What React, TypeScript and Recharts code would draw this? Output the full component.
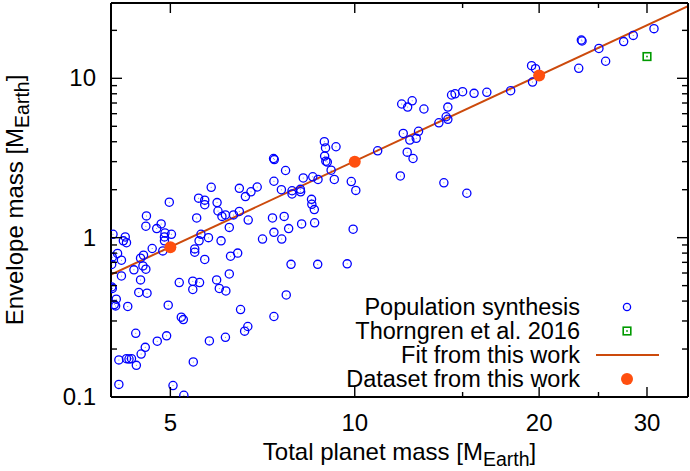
import { ComposedChart, Scatter, Line, XAxis, YAxis, Legend } from "recharts";

const FONT = "'Liberation Sans', Arial, Helvetica, sans-serif";
const BLUE = "#0000ff";
const GREEN = "#009a00";
const FIT = "#cc4a0c";
const DOT = "#ff4f0f";

// population synthesis: [total mass, envelope mass] in Earth masses
const popPoints: [number, number][] = [
  [5.83, 2.07], [4.98, 1.67], [5.56, 1.77], [5.69, 1.72], [5.69, 1.61], [5.96, 1.66],
  [5.98, 1.47], [6.07, 1.36], [6.15, 1.39], [6.34, 1.39], [5.52, 1.33], [4.57, 1.37],
  [4.56, 1.18], [4.75, 1.14], [4.83, 1.22], [4.9, 1.07], [5.02, 1.05], [4.89, 1.01],
  [4.89, 0.955], [4.86, 0.826], [6.24, 1.16], [5.61, 1.05], [5.77, 1.0], [6.05, 0.955],
  [5.57, 0.955], [5.48, 0.85], [5.48, 0.81], [4.67, 0.855], [4.52, 0.776], [4.47, 0.743],
  [4.03, 1.05], [4.22, 1.01], [4.19, 0.955], [4.24, 0.93], [4.1, 0.796], [4.02, 0.754],
  [4.16, 0.722], [5.69, 0.73], [6.27, 0.765], [4.01, 0.679], [4.36, 0.628], [4.51, 0.665],
  [4.56, 0.634], [4.16, 0.575], [4.47, 0.543], [4.01, 0.491], [4.02, 0.48], [4.44, 0.453],
  [4.58, 0.448], [4.08, 0.411], [4.05, 0.38], [4.07, 0.373], [4.26, 0.37], [5.17, 0.523],
  [5.44, 0.533], [5.58, 0.523], [5.44, 0.473], [5.95, 0.543], [6.01, 0.48], [6.16, 0.463],
  [6.24, 0.592], [4.96, 0.377], [5.21, 0.317], [5.25, 0.306], [4.39, 0.251], [4.93, 0.242],
  [4.76, 0.224], [4.55, 0.205], [4.48, 0.186], [4.12, 0.171], [4.24, 0.174], [4.28, 0.173],
  [4.32, 0.174], [4.4, 0.158], [5.45, 0.166], [5.79, 0.225], [6.15, 0.237], [4.12, 0.12],
  [5.05, 0.118], [5.26, 0.1025], [8.92, 4.0], [8.96, 3.66], [9.32, 3.72], [7.37, 3.14],
  [7.39, 3.09], [8.93, 3.25], [8.97, 3.02], [9.02, 2.98], [9.15, 2.65], [7.71, 2.64],
  [9.26, 2.32], [8.24, 2.37], [8.54, 2.41], [8.71, 2.32], [9.87, 2.25], [10.04, 1.98],
  [7.38, 2.26], [7.59, 2.0], [7.9, 1.97], [7.9, 1.88], [8.15, 2.01], [8.16, 1.94],
  [6.48, 2.04], [6.63, 1.81], [6.77, 1.94], [6.93, 2.08], [8.5, 1.74], [8.51, 1.62],
  [8.59, 1.5], [6.48, 1.46], [6.7, 1.29], [7.34, 1.33], [7.67, 1.36], [7.8, 1.14],
  [8.19, 1.22], [8.6, 1.24], [7.38, 1.08], [7.6, 0.98], [7.07, 0.98], [9.94, 1.13],
  [6.44, 0.8], [7.87, 0.68], [8.7, 0.68], [9.72, 0.685], [7.73, 0.437], [6.51, 0.354],
  [7.38, 0.32], [6.69, 0.277], [6.61, 0.259], [11.93, 6.9], [12.2, 6.6], [12.41, 7.23],
  [12.97, 6.42], [14.19, 6.6], [14.39, 7.86], [14.58, 8.0], [15.0, 8.24], [15.66, 8.05],
  [16.43, 8.17], [17.97, 8.36], [14.1, 5.74], [14.19, 5.53], [13.72, 5.26], [12.0, 4.51],
  [12.71, 4.65], [12.3, 4.1], [12.6, 4.2], [10.9, 3.51], [12.18, 3.44], [12.45, 3.14],
  [11.87, 2.44], [13.98, 2.21], [15.24, 1.9], [19.44, 12.0], [19.73, 11.49], [19.51, 9.48],
  [23.44, 17.4], [23.5, 17.15], [25.04, 15.4], [25.68, 12.8], [23.21, 11.56], [27.48, 17.0],
  [28.49, 18.6], [30.8, 20.5],
];

const thorngrenMass = [30];
const thorngrenEnv = [13.7];

const fitMass = [4, 35];
const fitEnv = [0.587, 28.4];

const datasetMass = [5, 10, 20];
const datasetEnv = [0.87, 3.0, 10.4];

const xTicks = [5, 10, 15, 20, 25, 30];
const xLabels = [5, 10, 20, 30];
const yTicks = [
  0.1, 0.2, 0.3, 0.4, 0.5, 0.6, 0.7, 0.8, 0.9,
  1, 2, 3, 4, 5, 6, 7, 8, 9,
  10, 20,
];
const yLabels = [0.1, 1, 10];

const legendLabels = [
  "Population synthesis",
  "Thorngren et al. 2016",
  "Fit from this work",
  "Dataset from this work",
];

const popData = popPoints.map(([x, y]) => ({ x, y }));
const thorngrenData = thorngrenMass.map((x, i) => ({ x, y: thorngrenEnv[i] }));
const fitData = fitMass.map((x, i) => ({ x, y: fitEnv[i] }));
const datasetData = datasetMass.map((x, i) => ({ x, y: datasetEnv[i] }));

const textStyle = { fontFamily: FONT, fontSize: 24, fill: "#000" };

function BottomTick(props: any) {
  const { x, y, payload } = props;
  const major = xLabels.includes(payload.value);
  return (
    <g>
      <line x1={x} y1={y} x2={x} y2={y - (major ? 10 : 5)} stroke="#000" strokeWidth={1.4} />
      {major && (
        <text x={x} y={y + 34} textAnchor="middle" {...textStyle}>
          {payload.value}
        </text>
      )}
    </g>
  );
}

function TopTick(props: any) {
  const { x, y, payload } = props;
  const major = xLabels.includes(payload.value);
  return <line x1={x} y1={y} x2={x} y2={y + (major ? 10 : 5)} stroke="#000" strokeWidth={1.4} />;
}

function LeftTick(props: any) {
  const { x, y, payload } = props;
  const major = yLabels.includes(payload.value);
  return (
    <g>
      <line x1={x} y1={y} x2={x + (major ? 11 : 6)} y2={y} stroke="#000" strokeWidth={1.4} />
      {major && (
        <text x={x - 15} y={y + 8} textAnchor="end" {...textStyle}>
          {payload.value}
        </text>
      )}
    </g>
  );
}

function RightTick(props: any) {
  const { x, y, payload } = props;
  const major = yLabels.includes(payload.value);
  return <line x1={x} y1={y} x2={x - (major ? 11 : 6)} y2={y} stroke="#000" strokeWidth={1.4} />;
}

function XTitle() {
  return (
    <text x={399.5} y={460} textAnchor="middle" {...textStyle}>
      Total planet mass [M
      <tspan dy={6} fontSize={19.5}>Earth</tspan>
      <tspan dy={-6}>]</tspan>
    </text>
  );
}

function YTitle() {
  return (
    <text x={23} y={200} textAnchor="middle" transform="rotate(-90, 23, 200)" {...textStyle}>
      Envelope mass [M
      <tspan dy={6} fontSize={19.5}>Earth</tspan>
      <tspan dy={-6}>]</tspan>
    </text>
  );
}

const OpenCircle = (props: any) => (
  <g>
    <circle cx={props.cx} cy={props.cy} r={props.r ?? 4.1} fill="none" stroke={BLUE} strokeWidth={1.3} />
    <circle cx={props.cx} cy={props.cy} r={0.5} fill={BLUE} opacity={0.6} />
  </g>
);

const OpenSquare = (props: any) => (
  <g>
    <rect x={props.cx - 3.8} y={props.cy - 3.8} width={7.6} height={7.6} fill="none" stroke={GREEN} strokeWidth={1.6} />
    <rect x={props.cx - 0.8} y={props.cy - 0.8} width={1.6} height={1.6} fill={GREEN} />
  </g>
);

const FilledDot = (props: any) => (
  <circle cx={props.cx} cy={props.cy} r={6} fill={DOT} />
);

function LegendSymbol({ i }: { i: number }) {
  return (
    <svg width={74} height={24} style={{ marginLeft: 10, display: "block" }}>
      {i === 0 && <OpenCircle cx={37} cy={12} r={3.6} />}
      {i === 1 && <OpenSquare cx={37} cy={12} />}
      {i === 2 && <line x1={6} y1={12} x2={69} y2={12} stroke={FIT} strokeWidth={2} />}
      {i === 3 && <FilledDot cx={37} cy={12} />}
    </svg>
  );
}

function LegendBox() {
  return (
    <div style={{ position: "relative", width: 690, height: 100, fontFamily: FONT, fontSize: 23.5, color: "#000" }}>
      {legendLabels.map((label, i) => (
        <div
          key={label}
          style={{
            position: "absolute",
            top: i * 24.2,
            left: 0,
            height: 24.2,
            display: "flex",
            alignItems: "center",
          }}
        >
          <span style={{ width: 580, textAlign: "right", whiteSpace: "nowrap", lineHeight: "22px" }}>{label}</span>
          <LegendSymbol i={i} />
        </div>
      ))}
    </div>
  );
}

export default function App() {
  return (
    <div style={{ position: "absolute", left: 0, top: 0, background: "#fff" }}>
      <ComposedChart width={690} height={471} margin={{ top: 2, right: 1, bottom: 0, left: 0 }}>
        <XAxis
          xAxisId="b"
          orientation="bottom"
          type="number"
          dataKey="x"
          scale="log"
          domain={[4, 35]}
          allowDataOverflow
          ticks={xTicks}
          interval={0}
          tickSize={0}
          tickMargin={0}
          tickLine={false}
          tick={<BottomTick />}
          axisLine={{ stroke: "#000", strokeWidth: 2 }}
          height={74}
          label={<XTitle />}
        />
        <XAxis
          xAxisId="t"
          orientation="top"
          type="number"
          dataKey="x"
          scale="log"
          domain={[4, 35]}
          allowDataOverflow
          ticks={xTicks}
          interval={0}
          tickSize={0}
          tickMargin={0}
          tickLine={false}
          tick={<TopTick />}
          axisLine={{ stroke: "#000", strokeWidth: 2 }}
          height={1}
        />
        <YAxis
          yAxisId="l"
          orientation="left"
          type="number"
          dataKey="y"
          scale="log"
          domain={[0.1, 29.7]}
          allowDataOverflow
          ticks={yTicks}
          interval={0}
          tickSize={0}
          tickMargin={0}
          tickLine={false}
          tick={<LeftTick />}
          axisLine={{ stroke: "#000", strokeWidth: 2 }}
          width={111}
          label={<YTitle />}
        />
        <YAxis
          yAxisId="r"
          orientation="right"
          type="number"
          dataKey="y"
          scale="log"
          domain={[0.1, 29.7]}
          allowDataOverflow
          ticks={yTicks}
          interval={0}
          tickSize={0}
          tickMargin={0}
          tickLine={false}
          tick={<RightTick />}
          axisLine={{ stroke: "#000", strokeWidth: 2 }}
          width={1}
        />
        <Scatter
          name="Population synthesis"
          data={popData}
          xAxisId="b"
          yAxisId="l"
          shape={OpenCircle}
          isAnimationActive={false}
        />
        <Scatter
          name="Thorngren et al. 2016"
          data={thorngrenData}
          xAxisId="b"
          yAxisId="l"
          shape={OpenSquare}
          isAnimationActive={false}
        />
        {/* the fit is drawn on the top/right axes (same log scales) so the frame axes get a series */}
        <Line
          name="Fit from this work"
          data={fitData}
          dataKey="y"
          xAxisId="t"
          yAxisId="r"
          type="linear"
          stroke={FIT}
          strokeWidth={2}
          dot={false}
          activeDot={false}
          isAnimationActive={false}
        />
        <Scatter
          name="Dataset from this work"
          data={datasetData}
          xAxisId="b"
          yAxisId="l"
          shape={FilledDot}
          isAnimationActive={false}
        />
        <Legend
          layout="horizontal"
          verticalAlign="middle"
          align="center"
          content={() => <LegendBox />}
          wrapperStyle={{ position: "absolute", left: 0, top: 294.6, width: 690, height: 100 }}
        />
      </ComposedChart>
    </div>
  );
}
